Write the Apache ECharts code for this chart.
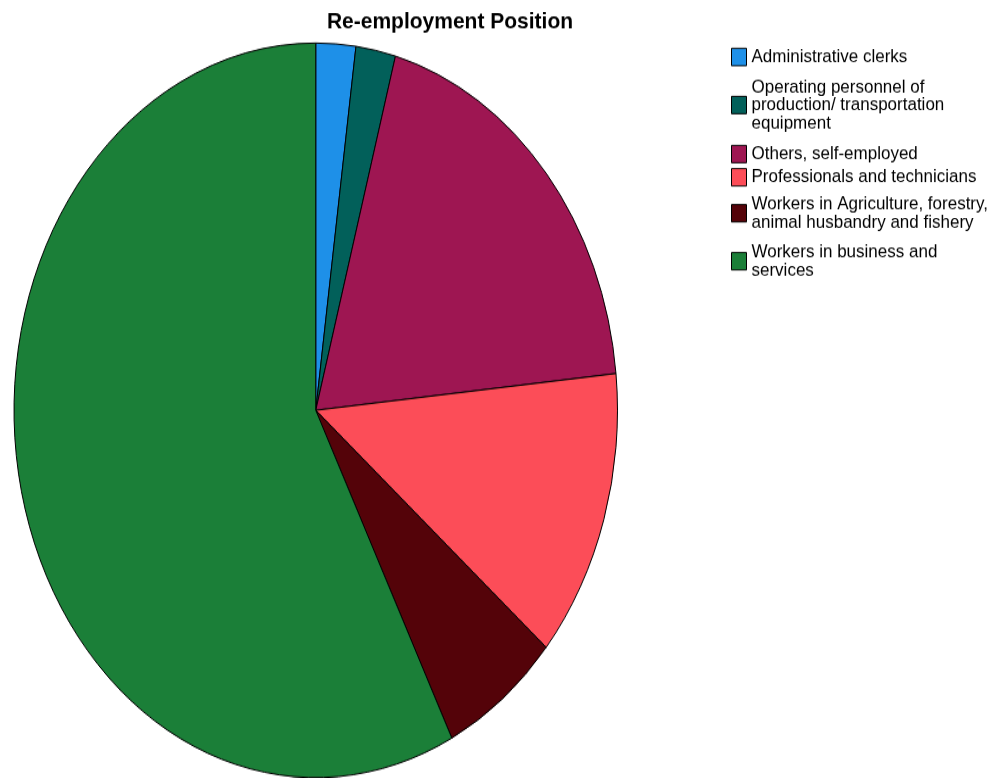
<!DOCTYPE html>
<html>
<head>
<meta charset="utf-8">
<script src="https://cdn.jsdelivr.net/npm/echarts@6/dist/echarts.min.js"></script>
<style>
html,body{margin:0;padding:0;background:#fff;width:1004px;height:778px;overflow:hidden;}
#pie{position:absolute;left:0;top:0;width:1004px;height:639.2px;transform:scaleY(1.2171);transform-origin:0 0;}
#over{position:absolute;left:0;top:0;width:1004px;height:713.8px;transform:scaleY(1.09);transform-origin:0 0;}
</style>
</head>
<body>
<div id="pie"></div>
<div id="over"></div>
<script>
const titleText = 'Re-employment Position';
const categories = [
  'Administrative clerks',
  'Operating personnel of\nproduction/ transportation\nequipment',
  'Others, self-employed',
  'Professionals and technicians',
  'Workers in Agriculture, forestry,\nanimal husbandry and fishery',
  'Workers in business and\nservices'
];
const counts = [1, 1, 9, 6, 3, 27];
const colors = ['#1E90E8', '#02605A', '#9E1652', '#FC4D58', '#540309', '#1B7F38'];

const pieData = categories.map((c, i) => ({ name: c, value: counts[i], itemStyle: { color: colors[i] } }));

const pieChart = echarts.init(document.getElementById('pie'), null, { renderer: 'canvas' });
pieChart.setOption({
  animation: false,
  series: [{
    type: 'pie',
    center: [315.75, 337.1],
    radius: [0, 301.75],
    startAngle: 90,
    clockwise: true,
    label: { show: false },
    labelLine: { show: false },
    silent: true,
    itemStyle: { borderColor: '#000', borderWidth: 1 },
    data: pieData
  }]
});

const overChart = echarts.init(document.getElementById('over'), null, { renderer: 'canvas' });
const legendTops = [43.75, 71.35, 132.85, 154.15, 178.9, 222.9];
const legends = categories.map((c, i) => ({
  orient: 'vertical',
  left: 731,
  top: legendTops[i],
  padding: 0,
  icon: 'rect',
  itemWidth: 15,
  itemHeight: 16,
  itemGap: 0,
  selectedMode: false,
  data: [c],
  itemStyle: { borderColor: '#000', borderWidth: 1 },
  textStyle: { fontFamily: 'Liberation Sans, Arial, sans-serif', fontSize: 17, lineHeight: 16.5, color: '#000', padding: 0 }
}));
overChart.setOption({
  animation: false,
  title: {
    text: titleText,
    left: 450,
    top: 8,
    textAlign: 'center',
    padding: 0,
    textStyle: { fontFamily: 'Liberation Sans, Arial, sans-serif', fontSize: 21, fontWeight: 'bold', color: '#000', lineHeight: 24 }
  },
  legend: legends,
  series: [{
    type: 'pie',
    center: [-2000, -2000],
    radius: [0, 1],
    label: { show: false },
    silent: true,
    data: pieData
  }]
});
</script>
</body>
</html>
